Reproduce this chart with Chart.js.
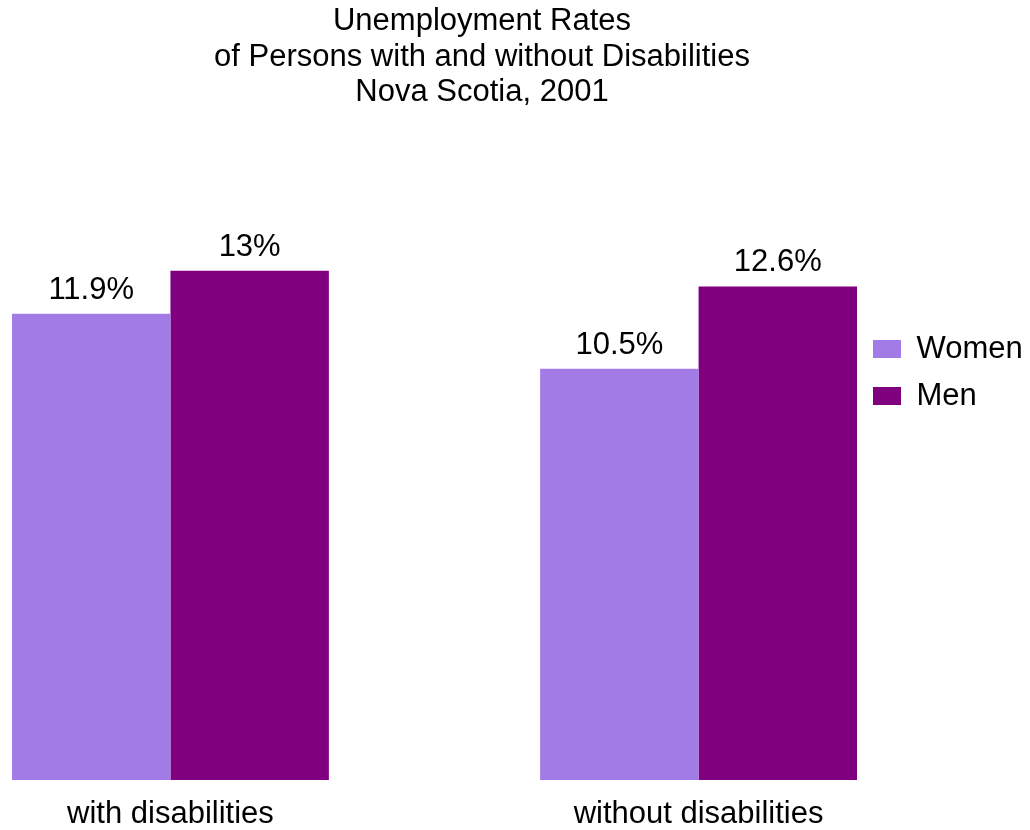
<!DOCTYPE html>
<html>
<head>
<meta charset="utf-8">
<script src="https://cdn.jsdelivr.net/npm/chart.js@4"></script>
<style>
  html, body { margin: 0; padding: 0; background: #fff; }
  #wrap { width: 1030px; height: 830px; position: relative; }
</style>
</head>
<body>
<div id="wrap"><canvas id="chart"></canvas></div>
<script>
// ─── DONNÉES ──────────────────────────────────────────────────────────────
const categories = ['with disabilities', 'without disabilities'];
const women = [11.9, 10.5];
const men = [13, 12.6];
const titleLines = [
    'Unemployment Rates',
    'of Persons with and without Disabilities',
    'Nova Scotia, 2001'
];

const FONT = "'Liberation Sans', Arial, sans-serif";

// titre dessiné à la main (centré un peu à gauche du canvas, comme l'original)
const titlePlugin = {
    id: 'titleBlock',
    afterDraw(chart) {
        const c = chart.ctx;
        c.save();
        c.font = `31px ${FONT}`;
        c.fillStyle = '#000';
        c.textAlign = 'center';
        c.textBaseline = 'alphabetic';
        titleLines.forEach((t, i) => c.fillText(t, 482, 30 + i * 35.5));
        c.restore();
    }
};

// valeurs au-dessus des barres
const valueLabels = {
    id: 'valueLabels',
    afterDatasetsDraw(chart) {
        const c = chart.ctx;
        c.save();
        c.font = `31px ${FONT}`;
        c.fillStyle = '#000';
        c.textAlign = 'center';
        c.textBaseline = 'alphabetic';
        chart.data.datasets.forEach((ds, di) => {
            chart.getDatasetMeta(di).data.forEach((bar, i) => {
                c.fillText(ds.data[i].y + '%', bar.x, bar.y - 15);
            });
        });
        c.restore();
    }
};

const toPoints = arr => arr.map((v, i) => ({ x: i, y: v }));

new Chart(document.getElementById('chart'), {
    type: 'bar',
    data: {
        datasets: [
            { label: 'Women', data: toPoints(women), backgroundColor: '#a27be6' },
            { label: 'Men',   data: toPoints(men),   backgroundColor: '#800080' }
        ]
    },
    options: {
        responsive: true,
        maintainAspectRatio: false,
        animation: false,
        categoryPercentage: 0.6,
        barPercentage: 1.0,
        layout: { padding: { left: 12, top: 114, right: 0, bottom: 0 } },
        scales: {
            x: {
                type: 'linear',
                offset: false,
                min: -0.3,
                max: 1.3,
                grid: { display: false, drawTicks: false, offset: false },
                border: { display: false },
                afterBuildTicks: axis => {
                    axis.ticks = categories.map((_, i) => ({ value: i }));
                },
                // hauteur fixe de l'axe : bas des barres à ~780px
                afterFit: axis => { axis.height = 50; },
                ticks: {
                    padding: 19,
                    maxRotation: 0,
                    autoSkip: false,
                    color: '#000',
                    font: { size: 31, family: FONT, lineHeight: 1 },
                    callback: v => categories[v]
                }
            },
            y: {
                display: false,
                min: 0,
                max: 17
            }
        },
        plugins: {
            title: { display: false },
            tooltip: { enabled: false },
            legend: {
                position: 'right',
                align: 'start',
                maxWidth: 173,
                title: {
                    // sert juste d'espace pour descendre la légende
                    display: true,
                    text: '',
                    font: { size: 10, lineHeight: 1 },
                    padding: { top: 193.5, bottom: 0 }
                },
                labels: {
                    boxWidth: 28,
                    boxHeight: 18,
                    padding: 16,
                    color: '#000',
                    font: { size: 31, family: FONT }
                }
            }
        }
    },
    plugins: [titlePlugin, valueLabels]
});
</script>
</body>
</html>
